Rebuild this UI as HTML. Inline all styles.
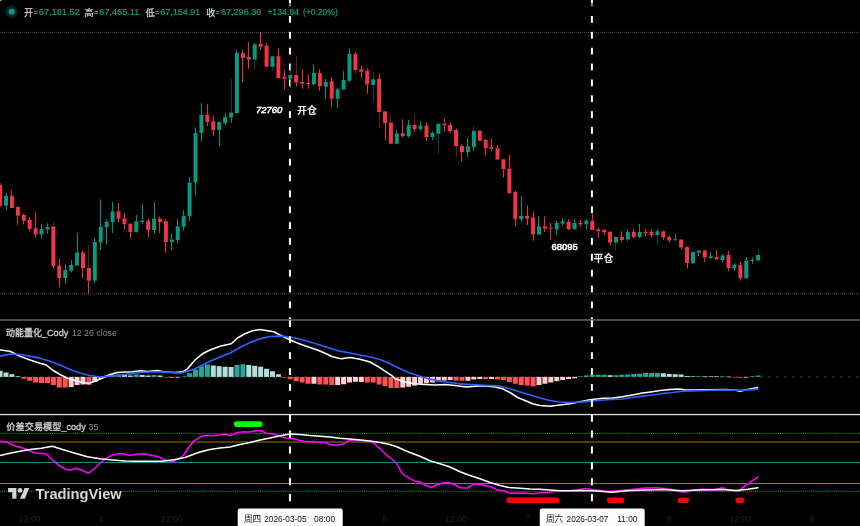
<!DOCTYPE html>
<html><head><meta charset="utf-8"><title>chart</title><style>html,body{margin:0;padding:0;background:#000;overflow:hidden}body{width:860px;height:526px;position:relative;font-family:"Liberation Sans",sans-serif}</style></head><body>
<svg width="860" height="526" viewBox="0 0 860 526" style="display:block;position:absolute;left:0;top:0" font-family="Liberation Sans, Noto Sans CJK SC, sans-serif">
<rect width="860" height="526" fill="#000"/>
<line x1="0" x2="860" y1="32.4" y2="32.4" stroke="#4a4a4a" stroke-width="1" stroke-dasharray="1 1"/>
<line x1="0" x2="860" y1="293.8" y2="293.8" stroke="#4a4a4a" stroke-width="1" stroke-dasharray="1 1"/>
<rect x="288.95" y="0" width="2" height="3.2" fill="#fff"/><rect x="288.95" y="3.2" width="2" height="3.1" fill="#8a8a8a"/>
<rect x="288.95" y="16.00" width="2.0" height="6.80" fill="#fff"/><rect x="288.95" y="31.86" width="2.0" height="6.80" fill="#fff"/><rect x="288.95" y="47.72" width="2.0" height="6.80" fill="#fff"/><rect x="288.95" y="63.58" width="2.0" height="6.80" fill="#fff"/><rect x="288.95" y="79.44" width="2.0" height="6.80" fill="#fff"/><rect x="288.95" y="95.30" width="2.0" height="6.80" fill="#fff"/><rect x="288.95" y="111.16" width="2.0" height="6.80" fill="#fff"/><rect x="288.95" y="127.02" width="2.0" height="6.80" fill="#fff"/><rect x="288.95" y="142.88" width="2.0" height="6.80" fill="#fff"/><rect x="288.95" y="158.74" width="2.0" height="6.80" fill="#fff"/><rect x="288.95" y="174.60" width="2.0" height="6.80" fill="#fff"/><rect x="288.95" y="190.46" width="2.0" height="6.80" fill="#fff"/><rect x="288.95" y="206.32" width="2.0" height="6.80" fill="#fff"/><rect x="288.95" y="222.18" width="2.0" height="6.80" fill="#fff"/><rect x="288.95" y="238.04" width="2.0" height="6.80" fill="#fff"/><rect x="288.95" y="253.90" width="2.0" height="6.80" fill="#fff"/><rect x="288.95" y="269.76" width="2.0" height="6.80" fill="#fff"/><rect x="288.95" y="285.62" width="2.0" height="6.80" fill="#fff"/><rect x="288.95" y="301.48" width="2.0" height="6.80" fill="#fff"/><rect x="288.95" y="317.34" width="2.0" height="1.66" fill="#fff"/>
<rect x="590.90" y="0" width="2" height="3.2" fill="#fff"/><rect x="590.90" y="3.2" width="2" height="3.1" fill="#8a8a8a"/>
<rect x="590.90" y="16.00" width="2.0" height="6.80" fill="#fff"/><rect x="590.90" y="31.86" width="2.0" height="6.80" fill="#fff"/><rect x="590.90" y="47.72" width="2.0" height="6.80" fill="#fff"/><rect x="590.90" y="63.58" width="2.0" height="6.80" fill="#fff"/><rect x="590.90" y="79.44" width="2.0" height="6.80" fill="#fff"/><rect x="590.90" y="95.30" width="2.0" height="6.80" fill="#fff"/><rect x="590.90" y="111.16" width="2.0" height="6.80" fill="#fff"/><rect x="590.90" y="127.02" width="2.0" height="6.80" fill="#fff"/><rect x="590.90" y="142.88" width="2.0" height="6.80" fill="#fff"/><rect x="590.90" y="158.74" width="2.0" height="6.80" fill="#fff"/><rect x="590.90" y="174.60" width="2.0" height="6.80" fill="#fff"/><rect x="590.90" y="190.46" width="2.0" height="6.80" fill="#fff"/><rect x="590.90" y="206.32" width="2.0" height="6.80" fill="#fff"/><rect x="590.90" y="222.18" width="2.0" height="6.80" fill="#fff"/><rect x="590.90" y="238.04" width="2.0" height="6.80" fill="#fff"/><rect x="590.90" y="253.90" width="2.0" height="6.80" fill="#fff"/><rect x="590.90" y="269.76" width="2.0" height="6.80" fill="#fff"/><rect x="590.90" y="285.62" width="2.0" height="6.80" fill="#fff"/><rect x="590.90" y="301.48" width="2.0" height="6.80" fill="#fff"/><rect x="590.90" y="317.34" width="2.0" height="1.66" fill="#fff"/>
<g><rect x="-0.05" y="183.00" width="1.1" height="2.00" fill="#F23645" opacity="0.45"/><rect x="-0.05" y="205.75" width="1.1" height="1.25" fill="#F23645" opacity="0.45"/><rect x="5.95" y="193.00" width="1.1" height="2.75" fill="#089981" opacity="0.92"/><rect x="5.95" y="205.75" width="1.1" height="4.25" fill="#089981" opacity="0.92"/><rect x="10.95" y="190.50" width="1.1" height="5.25" fill="#F23645" opacity="0.92"/><rect x="16.95" y="206.50" width="1.1" height="0.50" fill="#F23645" opacity="0.92"/><rect x="16.95" y="215.75" width="1.1" height="9.25" fill="#F23645" opacity="0.92"/><rect x="22.95" y="213.75" width="1.1" height="1.25" fill="#F23645" opacity="0.92"/><rect x="22.95" y="220.75" width="1.1" height="3.50" fill="#F23645" opacity="0.92"/><rect x="28.95" y="217.00" width="1.1" height="3.00" fill="#F23645" opacity="0.92"/><rect x="28.95" y="229.00" width="1.1" height="1.75" fill="#F23645" opacity="0.92"/><rect x="34.95" y="212.00" width="1.1" height="16.25" fill="#F23645" opacity="0.92"/><rect x="34.95" y="234.50" width="1.1" height="3.00" fill="#F23645" opacity="0.92"/><rect x="40.95" y="224.00" width="1.1" height="5.00" fill="#089981" opacity="0.92"/><rect x="40.95" y="234.50" width="1.1" height="4.25" fill="#089981" opacity="0.92"/><rect x="46.95" y="223.25" width="1.1" height="3.75" fill="#089981" opacity="0.92"/><rect x="46.95" y="229.50" width="1.1" height="4.25" fill="#089981" opacity="0.92"/><rect x="52.95" y="222.00" width="1.1" height="4.50" fill="#F23645" opacity="0.45"/><rect x="52.95" y="266.00" width="1.1" height="2.25" fill="#F23645" opacity="0.92"/><rect x="58.95" y="258.75" width="1.1" height="6.75" fill="#F23645" opacity="0.92"/><rect x="58.95" y="278.00" width="1.1" height="9.00" fill="#F23645" opacity="0.92"/><rect x="64.95" y="264.25" width="1.1" height="5.75" fill="#089981" opacity="0.92"/><rect x="64.95" y="278.00" width="1.1" height="5.75" fill="#089981" opacity="0.92"/><rect x="70.95" y="260.00" width="1.1" height="5.00" fill="#089981" opacity="0.92"/><rect x="70.95" y="270.75" width="1.1" height="1.75" fill="#089981" opacity="0.92"/><rect x="76.95" y="233.00" width="1.1" height="19.50" fill="#089981" opacity="0.92"/><rect x="81.95" y="250.75" width="1.1" height="1.75" fill="#F23645" opacity="0.92"/><rect x="81.95" y="268.25" width="1.1" height="9.75" fill="#F23645" opacity="0.92"/><rect x="87.95" y="245.00" width="1.1" height="23.00" fill="#F23645" opacity="0.45"/><rect x="87.95" y="280.75" width="1.1" height="13.00" fill="#F23645" opacity="0.92"/><rect x="93.95" y="238.00" width="1.1" height="4.00" fill="#089981" opacity="0.92"/><rect x="93.95" y="280.75" width="1.1" height="2.25" fill="#089981" opacity="0.92"/><rect x="99.95" y="199.25" width="1.1" height="27.50" fill="#089981" opacity="0.92"/><rect x="99.95" y="242.50" width="1.1" height="7.50" fill="#089981" opacity="0.92"/><rect x="105.95" y="219.25" width="1.1" height="2.50" fill="#089981" opacity="0.92"/><rect x="105.95" y="227.00" width="1.1" height="17.50" fill="#089981" opacity="0.92"/><rect x="111.95" y="202.00" width="1.1" height="9.25" fill="#089981" opacity="0.92"/><rect x="111.95" y="222.00" width="1.1" height="11.00" fill="#089981" opacity="0.92"/><rect x="117.95" y="203.00" width="1.1" height="8.25" fill="#F23645" opacity="0.92"/><rect x="117.95" y="218.75" width="1.1" height="3.25" fill="#F23645" opacity="0.92"/><rect x="123.95" y="213.00" width="1.1" height="5.25" fill="#F23645" opacity="0.92"/><rect x="123.95" y="224.25" width="1.1" height="5.25" fill="#F23645" opacity="0.92"/><rect x="129.95" y="223.25" width="1.1" height="0.50" fill="#F23645" opacity="0.92"/><rect x="129.95" y="232.00" width="1.1" height="6.00" fill="#F23645" opacity="0.92"/><rect x="135.95" y="215.00" width="1.1" height="6.25" fill="#089981" opacity="0.92"/><rect x="135.95" y="232.00" width="1.1" height="0.50" fill="#089981" opacity="0.92"/><rect x="141.95" y="204.25" width="1.1" height="16.50" fill="#089981" opacity="0.92"/><rect x="141.95" y="222.00" width="1.1" height="2.50" fill="#089981" opacity="0.92"/><rect x="147.95" y="218.75" width="1.1" height="2.00" fill="#F23645" opacity="0.92"/><rect x="147.95" y="230.00" width="1.1" height="7.50" fill="#F23645" opacity="0.92"/><rect x="153.95" y="202.00" width="1.1" height="16.75" fill="#089981" opacity="0.92"/><rect x="153.95" y="230.00" width="1.1" height="3.75" fill="#089981" opacity="0.92"/><rect x="158.95" y="216.75" width="1.1" height="2.00" fill="#F23645" opacity="0.92"/><rect x="158.95" y="222.00" width="1.1" height="11.00" fill="#F23645" opacity="0.92"/><rect x="164.95" y="219.25" width="1.1" height="2.00" fill="#F23645" opacity="0.92"/><rect x="164.95" y="242.00" width="1.1" height="11.00" fill="#F23645" opacity="0.92"/><rect x="170.95" y="233.75" width="1.1" height="5.75" fill="#089981" opacity="0.92"/><rect x="170.95" y="242.00" width="1.1" height="8.00" fill="#089981" opacity="0.92"/><rect x="176.95" y="219.25" width="1.1" height="7.00" fill="#089981" opacity="0.92"/><rect x="176.95" y="240.00" width="1.1" height="3.00" fill="#089981" opacity="0.92"/><rect x="182.95" y="210.00" width="1.1" height="5.75" fill="#089981" opacity="0.92"/><rect x="182.95" y="226.75" width="1.1" height="4.00" fill="#089981" opacity="0.92"/><rect x="188.95" y="177.00" width="1.1" height="5.50" fill="#089981" opacity="0.92"/><rect x="188.95" y="216.25" width="1.1" height="4.50" fill="#089981" opacity="0.92"/><rect x="194.95" y="127.50" width="1.1" height="5.50" fill="#089981" opacity="0.92"/><rect x="194.95" y="182.50" width="1.1" height="13.25" fill="#089981" opacity="0.92"/><rect x="200.95" y="103.00" width="1.1" height="12.00" fill="#089981" opacity="0.92"/><rect x="200.95" y="133.00" width="1.1" height="8.75" fill="#089981" opacity="0.92"/><rect x="206.95" y="104.25" width="1.1" height="10.75" fill="#F23645" opacity="0.92"/><rect x="206.95" y="122.00" width="1.1" height="4.25" fill="#F23645" opacity="0.92"/><rect x="212.95" y="116.25" width="1.1" height="5.00" fill="#F23645" opacity="0.92"/><rect x="212.95" y="130.00" width="1.1" height="5.50" fill="#F23645" opacity="0.92"/><rect x="218.95" y="121.25" width="1.1" height="0.75" fill="#089981" opacity="0.92"/><rect x="218.95" y="130.00" width="1.1" height="16.25" fill="#089981" opacity="0.92"/><rect x="224.95" y="112.50" width="1.1" height="4.50" fill="#089981" opacity="0.92"/><rect x="224.95" y="123.00" width="1.1" height="2.50" fill="#089981" opacity="0.92"/><rect x="230.95" y="78.75" width="1.1" height="33.75" fill="#089981" opacity="0.45"/><rect x="230.95" y="117.50" width="1.1" height="5.50" fill="#089981" opacity="0.92"/><rect x="235.95" y="50.00" width="1.1" height="3.00" fill="#089981" opacity="0.92"/><rect x="235.95" y="113.00" width="1.1" height="0.75" fill="#089981" opacity="0.92"/><rect x="241.95" y="50.00" width="1.1" height="3.00" fill="#F23645" opacity="0.92"/><rect x="241.95" y="58.00" width="1.1" height="24.00" fill="#F23645" opacity="0.92"/><rect x="247.95" y="42.00" width="1.1" height="15.00" fill="#F23645" opacity="0.92"/><rect x="247.95" y="59.50" width="1.1" height="9.25" fill="#F23645" opacity="0.92"/><rect x="253.95" y="43.00" width="1.1" height="1.25" fill="#089981" opacity="0.92"/><rect x="253.95" y="59.50" width="1.1" height="10.00" fill="#089981" opacity="0.45"/><rect x="259.95" y="32.00" width="1.1" height="11.75" fill="#F23645" opacity="0.92"/><rect x="259.95" y="46.75" width="1.1" height="3.25" fill="#F23645" opacity="0.92"/><rect x="265.95" y="43.00" width="1.1" height="2.75" fill="#F23645" opacity="0.92"/><rect x="271.95" y="66.75" width="1.1" height="4.00" fill="#089981" opacity="0.45"/><rect x="277.95" y="48.75" width="1.1" height="7.50" fill="#F23645" opacity="0.92"/><rect x="283.95" y="70.75" width="1.1" height="6.00" fill="#F23645" opacity="0.92"/><rect x="283.95" y="78.75" width="1.1" height="10.75" fill="#F23645" opacity="0.92"/><rect x="289.95" y="64.00" width="1.1" height="11.00" fill="#089981" opacity="0.45"/><rect x="289.95" y="78.75" width="1.1" height="8.75" fill="#089981" opacity="0.92"/><rect x="295.95" y="56.25" width="1.1" height="18.75" fill="#F23645" opacity="0.45"/><rect x="295.95" y="82.50" width="1.1" height="3.75" fill="#F23645" opacity="0.92"/><rect x="301.95" y="69.25" width="1.1" height="12.75" fill="#F23645" opacity="0.92"/><rect x="301.95" y="83.75" width="1.1" height="5.00" fill="#F23645" opacity="0.92"/><rect x="307.95" y="75.00" width="1.1" height="8.00" fill="#F23645" opacity="0.92"/><rect x="307.95" y="84.00" width="1.1" height="4.75" fill="#F23645" opacity="0.92"/><rect x="312.95" y="64.25" width="1.1" height="8.75" fill="#089981" opacity="0.92"/><rect x="312.95" y="84.25" width="1.1" height="1.25" fill="#089981" opacity="0.92"/><rect x="318.95" y="69.25" width="1.1" height="3.75" fill="#F23645" opacity="0.92"/><rect x="318.95" y="86.25" width="1.1" height="4.50" fill="#F23645" opacity="0.92"/><rect x="324.95" y="78.75" width="1.1" height="3.25" fill="#089981" opacity="0.92"/><rect x="324.95" y="86.75" width="1.1" height="12.00" fill="#089981" opacity="0.92"/><rect x="330.95" y="77.50" width="1.1" height="3.75" fill="#F23645" opacity="0.92"/><rect x="330.95" y="98.75" width="1.1" height="8.75" fill="#F23645" opacity="0.92"/><rect x="336.95" y="87.50" width="1.1" height="1.75" fill="#089981" opacity="0.92"/><rect x="336.95" y="98.75" width="1.1" height="9.25" fill="#089981" opacity="0.92"/><rect x="342.95" y="70.75" width="1.1" height="9.25" fill="#089981" opacity="0.92"/><rect x="342.95" y="89.50" width="1.1" height="0.50" fill="#089981" opacity="0.92"/><rect x="348.95" y="48.25" width="1.1" height="5.50" fill="#089981" opacity="0.92"/><rect x="348.95" y="80.75" width="1.1" height="1.75" fill="#089981" opacity="0.92"/><rect x="354.95" y="52.00" width="1.1" height="1.75" fill="#F23645" opacity="0.92"/><rect x="354.95" y="70.00" width="1.1" height="3.75" fill="#F23645" opacity="0.45"/><rect x="360.95" y="65.50" width="1.1" height="3.75" fill="#F23645" opacity="0.92"/><rect x="360.95" y="71.75" width="1.1" height="6.25" fill="#F23645" opacity="0.92"/><rect x="366.95" y="68.25" width="1.1" height="2.50" fill="#F23645" opacity="0.92"/><rect x="366.95" y="84.50" width="1.1" height="9.25" fill="#F23645" opacity="0.92"/><rect x="372.95" y="72.00" width="1.1" height="7.25" fill="#089981" opacity="0.45"/><rect x="372.95" y="85.00" width="1.1" height="16.25" fill="#089981" opacity="0.45"/><rect x="378.95" y="73.75" width="1.1" height="5.00" fill="#F23645" opacity="0.92"/><rect x="378.95" y="112.00" width="1.1" height="15.50" fill="#F23645" opacity="0.45"/><rect x="384.95" y="123.00" width="1.1" height="17.00" fill="#F23645" opacity="0.92"/><rect x="389.95" y="114.50" width="1.1" height="8.00" fill="#F23645" opacity="0.45"/><rect x="389.95" y="143.75" width="1.1" height="0.50" fill="#F23645" opacity="0.92"/><rect x="395.95" y="130.00" width="1.1" height="3.25" fill="#089981" opacity="0.92"/><rect x="395.95" y="143.75" width="1.1" height="0.25" fill="#089981" opacity="0.92"/><rect x="401.95" y="119.25" width="1.1" height="14.00" fill="#F23645" opacity="0.92"/><rect x="401.95" y="136.25" width="1.1" height="1.25" fill="#F23645" opacity="0.92"/><rect x="407.95" y="120.00" width="1.1" height="5.00" fill="#089981" opacity="0.92"/><rect x="407.95" y="136.25" width="1.1" height="1.75" fill="#089981" opacity="0.92"/><rect x="413.95" y="114.25" width="1.1" height="10.75" fill="#F23645" opacity="0.45"/><rect x="413.95" y="129.25" width="1.1" height="2.50" fill="#F23645" opacity="0.92"/><rect x="419.95" y="121.25" width="1.1" height="4.50" fill="#089981" opacity="0.92"/><rect x="419.95" y="129.25" width="1.1" height="1.50" fill="#089981" opacity="0.92"/><rect x="425.95" y="123.00" width="1.1" height="2.75" fill="#F23645" opacity="0.92"/><rect x="425.95" y="137.00" width="1.1" height="4.00" fill="#F23645" opacity="0.92"/><rect x="431.95" y="131.25" width="1.1" height="1.75" fill="#089981" opacity="0.92"/><rect x="431.95" y="137.00" width="1.1" height="3.00" fill="#089981" opacity="0.92"/><rect x="437.95" y="123.00" width="1.1" height="0.75" fill="#089981" opacity="0.92"/><rect x="437.95" y="133.75" width="1.1" height="20.75" fill="#089981" opacity="0.45"/><rect x="443.95" y="118.75" width="1.1" height="5.00" fill="#F23645" opacity="0.92"/><rect x="443.95" y="125.00" width="1.1" height="7.00" fill="#F23645" opacity="0.92"/><rect x="449.95" y="122.50" width="1.1" height="2.50" fill="#F23645" opacity="0.92"/><rect x="449.95" y="131.25" width="1.1" height="1.75" fill="#F23645" opacity="0.92"/><rect x="455.95" y="128.75" width="1.1" height="1.25" fill="#F23645" opacity="0.92"/><rect x="455.95" y="146.25" width="1.1" height="10.75" fill="#F23645" opacity="0.45"/><rect x="460.95" y="143.75" width="1.1" height="2.00" fill="#F23645" opacity="0.92"/><rect x="460.95" y="152.00" width="1.1" height="9.75" fill="#F23645" opacity="0.92"/><rect x="466.95" y="138.00" width="1.1" height="8.25" fill="#089981" opacity="0.92"/><rect x="466.95" y="152.00" width="1.1" height="5.00" fill="#089981" opacity="0.92"/><rect x="472.95" y="125.75" width="1.1" height="5.00" fill="#089981" opacity="0.45"/><rect x="472.95" y="147.00" width="1.1" height="3.75" fill="#089981" opacity="0.92"/><rect x="478.95" y="130.50" width="1.1" height="0.25" fill="#F23645" opacity="0.92"/><rect x="478.95" y="140.75" width="1.1" height="0.50" fill="#F23645" opacity="0.92"/><rect x="484.95" y="138.75" width="1.1" height="1.25" fill="#F23645" opacity="0.92"/><rect x="484.95" y="148.25" width="1.1" height="7.50" fill="#F23645" opacity="0.92"/><rect x="490.95" y="138.75" width="1.1" height="8.25" fill="#F23645" opacity="0.92"/><rect x="490.95" y="148.75" width="1.1" height="2.50" fill="#F23645" opacity="0.92"/><rect x="496.95" y="145.00" width="1.1" height="3.25" fill="#F23645" opacity="0.92"/><rect x="496.95" y="159.50" width="1.1" height="0.50" fill="#F23645" opacity="0.92"/><rect x="502.95" y="158.75" width="1.1" height="0.50" fill="#F23645" opacity="0.92"/><rect x="502.95" y="169.25" width="1.1" height="8.25" fill="#F23645" opacity="0.92"/><rect x="508.95" y="155.00" width="1.1" height="13.75" fill="#F23645" opacity="0.92"/><rect x="508.95" y="193.00" width="1.1" height="0.75" fill="#F23645" opacity="0.92"/><rect x="514.95" y="190.50" width="1.1" height="1.50" fill="#F23645" opacity="0.92"/><rect x="514.95" y="219.25" width="1.1" height="7.25" fill="#F23645" opacity="0.92"/><rect x="520.95" y="196.00" width="1.1" height="19.75" fill="#089981" opacity="0.92"/><rect x="520.95" y="219.25" width="1.1" height="2.25" fill="#089981" opacity="0.92"/><rect x="526.95" y="205.50" width="1.1" height="10.25" fill="#F23645" opacity="0.92"/><rect x="526.95" y="218.75" width="1.1" height="6.25" fill="#F23645" opacity="0.92"/><rect x="532.95" y="211.25" width="1.1" height="6.25" fill="#F23645" opacity="0.92"/><rect x="532.95" y="234.50" width="1.1" height="6.25" fill="#F23645" opacity="0.92"/><rect x="537.95" y="216.25" width="1.1" height="10.00" fill="#089981" opacity="0.92"/><rect x="537.95" y="234.50" width="1.1" height="0.50" fill="#089981" opacity="0.92"/><rect x="543.95" y="216.25" width="1.1" height="10.00" fill="#F23645" opacity="0.92"/><rect x="543.95" y="228.75" width="1.1" height="3.25" fill="#F23645" opacity="0.92"/><rect x="549.95" y="223.00" width="1.1" height="4.50" fill="#F23645" opacity="0.92"/><rect x="549.95" y="228.75" width="1.1" height="10.75" fill="#F23645" opacity="0.92"/><rect x="555.95" y="220.75" width="1.1" height="2.25" fill="#089981" opacity="0.92"/><rect x="555.95" y="229.50" width="1.1" height="5.50" fill="#089981" opacity="0.92"/><rect x="561.95" y="218.00" width="1.1" height="3.25" fill="#089981" opacity="0.92"/><rect x="561.95" y="223.75" width="1.1" height="1.75" fill="#089981" opacity="0.92"/><rect x="567.95" y="219.50" width="1.1" height="2.25" fill="#F23645" opacity="0.92"/><rect x="567.95" y="229.25" width="1.1" height="0.75" fill="#F23645" opacity="0.92"/><rect x="573.95" y="219.25" width="1.1" height="3.75" fill="#089981" opacity="0.92"/><rect x="573.95" y="229.25" width="1.1" height="0.25" fill="#089981" opacity="0.92"/><rect x="579.95" y="220.00" width="1.1" height="3.00" fill="#F23645" opacity="0.92"/><rect x="579.95" y="224.50" width="1.1" height="3.00" fill="#F23645" opacity="0.92"/><rect x="585.95" y="219.50" width="1.1" height="1.25" fill="#089981" opacity="0.92"/><rect x="585.95" y="224.25" width="1.1" height="5.75" fill="#089981" opacity="0.92"/><rect x="591.95" y="213.75" width="1.1" height="7.00" fill="#F23645" opacity="0.92"/><rect x="597.95" y="227.50" width="1.1" height="1.75" fill="#F23645" opacity="0.92"/><rect x="597.95" y="231.25" width="1.1" height="6.75" fill="#F23645" opacity="0.92"/><rect x="603.95" y="228.75" width="1.1" height="1.25" fill="#F23645" opacity="0.92"/><rect x="603.95" y="232.00" width="1.1" height="3.00" fill="#F23645" opacity="0.92"/><rect x="609.95" y="231.00" width="1.1" height="0.75" fill="#F23645" opacity="0.92"/><rect x="609.95" y="242.50" width="1.1" height="2.50" fill="#F23645" opacity="0.92"/><rect x="614.95" y="242.50" width="1.1" height="8.00" fill="#089981" opacity="0.45"/><rect x="620.95" y="231.25" width="1.1" height="5.75" fill="#F23645" opacity="0.92"/><rect x="620.95" y="240.00" width="1.1" height="2.00" fill="#F23645" opacity="0.92"/><rect x="626.95" y="229.50" width="1.1" height="2.50" fill="#089981" opacity="0.92"/><rect x="626.95" y="239.50" width="1.1" height="1.75" fill="#089981" opacity="0.92"/><rect x="632.95" y="228.75" width="1.1" height="3.25" fill="#F23645" opacity="0.92"/><rect x="632.95" y="237.00" width="1.1" height="1.00" fill="#F23645" opacity="0.92"/><rect x="638.95" y="223.75" width="1.1" height="8.25" fill="#089981" opacity="0.92"/><rect x="638.95" y="237.00" width="1.1" height="1.00" fill="#089981" opacity="0.92"/><rect x="644.95" y="229.25" width="1.1" height="2.75" fill="#F23645" opacity="0.92"/><rect x="644.95" y="233.25" width="1.1" height="3.00" fill="#F23645" opacity="0.92"/><rect x="650.95" y="229.25" width="1.1" height="2.50" fill="#F23645" opacity="0.92"/><rect x="650.95" y="235.00" width="1.1" height="2.50" fill="#F23645" opacity="0.92"/><rect x="656.95" y="229.25" width="1.1" height="2.00" fill="#089981" opacity="0.92"/><rect x="656.95" y="235.00" width="1.1" height="10.00" fill="#089981" opacity="0.45"/><rect x="662.95" y="230.75" width="1.1" height="0.50" fill="#F23645" opacity="0.92"/><rect x="662.95" y="237.50" width="1.1" height="2.50" fill="#F23645" opacity="0.92"/><rect x="668.95" y="235.50" width="1.1" height="1.50" fill="#F23645" opacity="0.92"/><rect x="668.95" y="240.50" width="1.1" height="2.00" fill="#F23645" opacity="0.92"/><rect x="674.95" y="234.25" width="1.1" height="5.00" fill="#089981" opacity="0.92"/><rect x="674.95" y="240.25" width="1.1" height="0.25" fill="#089981" opacity="0.92"/><rect x="680.95" y="239.00" width="1.1" height="0.50" fill="#F23645" opacity="0.92"/><rect x="680.95" y="247.50" width="1.1" height="2.00" fill="#F23645" opacity="0.92"/><rect x="686.95" y="246.50" width="1.1" height="0.50" fill="#F23645" opacity="0.92"/><rect x="686.95" y="263.00" width="1.1" height="5.50" fill="#F23645" opacity="0.92"/><rect x="691.95" y="251.25" width="1.1" height="0.75" fill="#089981" opacity="0.92"/><rect x="691.95" y="263.25" width="1.1" height="0.50" fill="#089981" opacity="0.92"/><rect x="697.95" y="250.00" width="1.1" height="0.50" fill="#089981" opacity="0.92"/><rect x="697.95" y="252.75" width="1.1" height="3.25" fill="#089981" opacity="0.92"/><rect x="703.95" y="249.50" width="1.1" height="1.00" fill="#F23645" opacity="0.92"/><rect x="703.95" y="257.50" width="1.1" height="4.50" fill="#F23645" opacity="0.92"/><rect x="709.95" y="252.25" width="1.1" height="4.00" fill="#089981" opacity="0.92"/><rect x="709.95" y="258.00" width="1.1" height="1.00" fill="#089981" opacity="0.92"/><rect x="715.95" y="250.00" width="1.1" height="7.00" fill="#F23645" opacity="0.92"/><rect x="721.95" y="253.75" width="1.1" height="1.75" fill="#089981" opacity="0.92"/><rect x="721.95" y="260.00" width="1.1" height="2.50" fill="#089981" opacity="0.92"/><rect x="727.95" y="250.75" width="1.1" height="4.25" fill="#F23645" opacity="0.92"/><rect x="727.95" y="268.00" width="1.1" height="3.25" fill="#F23645" opacity="0.92"/><rect x="733.95" y="263.00" width="1.1" height="2.00" fill="#089981" opacity="0.92"/><rect x="733.95" y="268.25" width="1.1" height="2.25" fill="#089981" opacity="0.92"/><rect x="739.95" y="262.00" width="1.1" height="3.00" fill="#F23645" opacity="0.92"/><rect x="739.95" y="278.25" width="1.1" height="2.25" fill="#F23645" opacity="0.92"/><rect x="745.95" y="257.00" width="1.1" height="3.50" fill="#089981" opacity="0.92"/><rect x="745.95" y="278.25" width="1.1" height="0.50" fill="#089981" opacity="0.92"/><rect x="751.95" y="257.50" width="1.1" height="2.50" fill="#089981" opacity="0.92"/><rect x="751.95" y="261.00" width="1.1" height="2.75" fill="#089981" opacity="0.92"/><rect x="757.95" y="250.00" width="1.1" height="5.00" fill="#089981" opacity="0.45"/></g>
<g><rect x="-1.89" y="185.00" width="3.95" height="20.75" fill="#F23645"/><rect x="4.03" y="195.75" width="3.95" height="10.00" fill="#089981"/><rect x="9.95" y="195.75" width="3.95" height="12.25" fill="#F23645"/><rect x="15.87" y="207.00" width="3.95" height="8.75" fill="#F23645"/><rect x="21.79" y="215.00" width="3.95" height="5.75" fill="#F23645"/><rect x="27.72" y="220.00" width="3.95" height="9.00" fill="#F23645"/><rect x="33.64" y="228.25" width="3.95" height="6.25" fill="#F23645"/><rect x="39.56" y="229.00" width="3.95" height="5.50" fill="#089981"/><rect x="45.48" y="227.00" width="3.95" height="2.50" fill="#089981"/><rect x="51.40" y="226.50" width="3.95" height="39.50" fill="#F23645"/><rect x="57.33" y="265.50" width="3.95" height="12.50" fill="#F23645"/><rect x="63.25" y="270.00" width="3.95" height="8.00" fill="#089981"/><rect x="69.17" y="265.00" width="3.95" height="5.75" fill="#089981"/><rect x="75.09" y="252.50" width="3.95" height="13.00" fill="#089981"/><rect x="81.02" y="252.50" width="3.95" height="15.75" fill="#F23645"/><rect x="86.94" y="268.00" width="3.95" height="12.75" fill="#F23645"/><rect x="92.86" y="242.00" width="3.95" height="38.75" fill="#089981"/><rect x="98.78" y="226.75" width="3.95" height="15.75" fill="#089981"/><rect x="104.70" y="221.75" width="3.95" height="5.25" fill="#089981"/><rect x="110.62" y="211.25" width="3.95" height="10.75" fill="#089981"/><rect x="116.55" y="211.25" width="3.95" height="7.50" fill="#F23645"/><rect x="122.47" y="218.25" width="3.95" height="6.00" fill="#F23645"/><rect x="128.39" y="223.75" width="3.95" height="8.25" fill="#F23645"/><rect x="134.31" y="221.25" width="3.95" height="10.75" fill="#089981"/><rect x="140.23" y="220.75" width="3.95" height="1.25" fill="#089981"/><rect x="146.16" y="220.75" width="3.95" height="9.25" fill="#F23645"/><rect x="152.08" y="218.75" width="3.95" height="11.25" fill="#089981"/><rect x="158.00" y="218.75" width="3.95" height="3.25" fill="#F23645"/><rect x="163.92" y="221.25" width="3.95" height="20.75" fill="#F23645"/><rect x="169.84" y="239.50" width="3.95" height="2.50" fill="#089981"/><rect x="175.77" y="226.25" width="3.95" height="13.75" fill="#089981"/><rect x="181.69" y="215.75" width="3.95" height="11.00" fill="#089981"/><rect x="187.61" y="182.50" width="3.95" height="33.75" fill="#089981"/><rect x="193.53" y="133.00" width="3.95" height="49.50" fill="#089981"/><rect x="199.45" y="115.00" width="3.95" height="18.00" fill="#089981"/><rect x="205.38" y="115.00" width="3.95" height="7.00" fill="#F23645"/><rect x="211.30" y="121.25" width="3.95" height="8.75" fill="#F23645"/><rect x="217.22" y="122.00" width="3.95" height="8.00" fill="#089981"/><rect x="223.14" y="117.00" width="3.95" height="6.00" fill="#089981"/><rect x="229.06" y="112.50" width="3.95" height="5.00" fill="#089981"/><rect x="234.99" y="53.00" width="3.95" height="60.00" fill="#089981"/><rect x="240.91" y="53.00" width="3.95" height="5.00" fill="#F23645"/><rect x="246.83" y="57.00" width="3.95" height="2.50" fill="#F23645"/><rect x="252.75" y="44.25" width="3.95" height="15.25" fill="#089981"/><rect x="258.68" y="43.75" width="3.95" height="3.00" fill="#F23645"/><rect x="264.60" y="45.75" width="3.95" height="21.00" fill="#F23645"/><rect x="270.52" y="56.25" width="3.95" height="10.50" fill="#089981"/><rect x="276.44" y="56.25" width="3.95" height="21.75" fill="#F23645"/><rect x="282.36" y="76.75" width="3.95" height="2.00" fill="#F23645"/><rect x="288.28" y="75.00" width="3.95" height="3.75" fill="#089981"/><rect x="294.21" y="75.00" width="3.95" height="7.50" fill="#F23645"/><rect x="300.13" y="82.00" width="3.95" height="1.75" fill="#F23645"/><rect x="306.05" y="83.00" width="3.95" height="1.00" fill="#F23645"/><rect x="311.97" y="73.00" width="3.95" height="11.25" fill="#089981"/><rect x="317.89" y="73.00" width="3.95" height="13.25" fill="#F23645"/><rect x="323.82" y="82.00" width="3.95" height="4.75" fill="#089981"/><rect x="329.74" y="81.25" width="3.95" height="17.50" fill="#F23645"/><rect x="335.66" y="89.25" width="3.95" height="9.50" fill="#089981"/><rect x="341.58" y="80.00" width="3.95" height="9.50" fill="#089981"/><rect x="347.50" y="53.75" width="3.95" height="27.00" fill="#089981"/><rect x="353.43" y="53.75" width="3.95" height="16.25" fill="#F23645"/><rect x="359.35" y="69.25" width="3.95" height="2.50" fill="#F23645"/><rect x="365.27" y="70.75" width="3.95" height="13.75" fill="#F23645"/><rect x="371.19" y="79.25" width="3.95" height="5.75" fill="#089981"/><rect x="377.12" y="78.75" width="3.95" height="33.25" fill="#F23645"/><rect x="383.04" y="111.25" width="3.95" height="11.75" fill="#F23645"/><rect x="388.96" y="122.50" width="3.95" height="21.25" fill="#F23645"/><rect x="394.88" y="133.25" width="3.95" height="10.50" fill="#089981"/><rect x="400.80" y="133.25" width="3.95" height="3.00" fill="#F23645"/><rect x="406.72" y="125.00" width="3.95" height="11.25" fill="#089981"/><rect x="412.65" y="125.00" width="3.95" height="4.25" fill="#F23645"/><rect x="418.57" y="125.75" width="3.95" height="3.50" fill="#089981"/><rect x="424.49" y="125.75" width="3.95" height="11.25" fill="#F23645"/><rect x="430.41" y="133.00" width="3.95" height="4.00" fill="#089981"/><rect x="436.33" y="123.75" width="3.95" height="10.00" fill="#089981"/><rect x="442.26" y="123.75" width="3.95" height="1.25" fill="#F23645"/><rect x="448.18" y="125.00" width="3.95" height="6.25" fill="#F23645"/><rect x="454.10" y="130.00" width="3.95" height="16.25" fill="#F23645"/><rect x="460.02" y="145.75" width="3.95" height="6.25" fill="#F23645"/><rect x="465.94" y="146.25" width="3.95" height="5.75" fill="#089981"/><rect x="471.87" y="130.75" width="3.95" height="16.25" fill="#089981"/><rect x="477.79" y="130.75" width="3.95" height="10.00" fill="#F23645"/><rect x="483.71" y="140.00" width="3.95" height="8.25" fill="#F23645"/><rect x="489.63" y="147.00" width="3.95" height="1.75" fill="#F23645"/><rect x="495.55" y="148.25" width="3.95" height="11.25" fill="#F23645"/><rect x="501.48" y="159.25" width="3.95" height="10.00" fill="#F23645"/><rect x="507.40" y="168.75" width="3.95" height="24.25" fill="#F23645"/><rect x="513.32" y="192.00" width="3.95" height="27.25" fill="#F23645"/><rect x="519.24" y="215.75" width="3.95" height="3.50" fill="#089981"/><rect x="525.16" y="215.75" width="3.95" height="3.00" fill="#F23645"/><rect x="531.09" y="217.50" width="3.95" height="17.00" fill="#F23645"/><rect x="537.01" y="226.25" width="3.95" height="8.25" fill="#089981"/><rect x="542.93" y="226.25" width="3.95" height="2.50" fill="#F23645"/><rect x="548.85" y="227.50" width="3.95" height="1.25" fill="#F23645"/><rect x="554.77" y="223.00" width="3.95" height="6.50" fill="#089981"/><rect x="560.70" y="221.25" width="3.95" height="2.50" fill="#089981"/><rect x="566.62" y="221.75" width="3.95" height="7.50" fill="#F23645"/><rect x="572.54" y="223.00" width="3.95" height="6.25" fill="#089981"/><rect x="578.46" y="223.00" width="3.95" height="1.50" fill="#F23645"/><rect x="584.38" y="220.75" width="3.95" height="3.50" fill="#089981"/><rect x="590.31" y="220.75" width="3.95" height="9.25" fill="#F23645"/><rect x="596.23" y="229.25" width="3.95" height="2.00" fill="#F23645"/><rect x="602.15" y="230.00" width="3.95" height="2.00" fill="#F23645"/><rect x="608.07" y="231.75" width="3.95" height="10.75" fill="#F23645"/><rect x="613.99" y="237.00" width="3.95" height="5.50" fill="#089981"/><rect x="619.92" y="237.00" width="3.95" height="3.00" fill="#F23645"/><rect x="625.84" y="232.00" width="3.95" height="7.50" fill="#089981"/><rect x="631.76" y="232.00" width="3.95" height="5.00" fill="#F23645"/><rect x="637.68" y="232.00" width="3.95" height="5.00" fill="#089981"/><rect x="643.60" y="232.00" width="3.95" height="1.25" fill="#F23645"/><rect x="649.53" y="231.75" width="3.95" height="3.25" fill="#F23645"/><rect x="655.45" y="231.25" width="3.95" height="3.75" fill="#089981"/><rect x="661.37" y="231.25" width="3.95" height="6.25" fill="#F23645"/><rect x="667.29" y="237.00" width="3.95" height="3.50" fill="#F23645"/><rect x="673.21" y="239.25" width="3.95" height="1.00" fill="#089981"/><rect x="679.14" y="239.50" width="3.95" height="8.00" fill="#F23645"/><rect x="685.06" y="247.00" width="3.95" height="16.00" fill="#F23645"/><rect x="690.98" y="252.00" width="3.95" height="11.25" fill="#089981"/><rect x="696.90" y="250.50" width="3.95" height="2.25" fill="#089981"/><rect x="702.82" y="250.50" width="3.95" height="7.00" fill="#F23645"/><rect x="708.75" y="256.25" width="3.95" height="1.75" fill="#089981"/><rect x="714.67" y="257.00" width="3.95" height="2.50" fill="#F23645"/><rect x="720.59" y="255.50" width="3.95" height="4.50" fill="#089981"/><rect x="726.51" y="255.00" width="3.95" height="13.00" fill="#F23645"/><rect x="732.43" y="265.00" width="3.95" height="3.25" fill="#089981"/><rect x="738.36" y="265.00" width="3.95" height="13.25" fill="#F23645"/><rect x="744.28" y="260.50" width="3.95" height="17.75" fill="#089981"/><rect x="750.20" y="260.00" width="3.95" height="1.00" fill="#089981"/><rect x="756.12" y="255.00" width="3.95" height="5.50" fill="#089981"/></g>
<rect x="0" y="319" width="860" height="2" fill="#4c4c4c"/>
<rect x="0" y="413.9" width="860" height="1.3" fill="#e0e0e0"/>
<line x1="0" x2="860" y1="377" y2="377" stroke="#3c3c3c" stroke-width="1" stroke-dasharray="3 5"/>
<g><rect x="-2.42" y="370.75" width="5" height="6.15" fill="#B2DFDB"/><rect x="3.50" y="372.50" width="5" height="4.40" fill="#B2DFDB"/><rect x="9.43" y="374.25" width="5" height="2.65" fill="#B2DFDB"/><rect x="15.35" y="376.20" width="5" height="0.70" fill="#B2DFDB"/><rect x="21.27" y="376.90" width="5" height="1.85" fill="#FF5252"/><rect x="27.19" y="376.90" width="5" height="3.85" fill="#FF5252"/><rect x="33.11" y="376.90" width="5" height="5.60" fill="#FF5252"/><rect x="39.04" y="376.90" width="5" height="6.10" fill="#FF5252"/><rect x="44.96" y="376.90" width="5" height="6.10" fill="#FF5252"/><rect x="50.88" y="376.90" width="5" height="8.10" fill="#FF5252"/><rect x="56.80" y="376.90" width="5" height="10.60" fill="#FF5252"/><rect x="62.72" y="376.90" width="5" height="10.60" fill="#FF5252"/><rect x="68.65" y="376.90" width="5" height="10.10" fill="#FFCDD2"/><rect x="74.57" y="376.90" width="5" height="8.10" fill="#FFCDD2"/><rect x="80.49" y="376.90" width="5" height="7.60" fill="#FFCDD2"/><rect x="86.41" y="376.90" width="5" height="8.10" fill="#FF5252"/><rect x="92.33" y="376.90" width="5" height="5.10" fill="#FFCDD2"/><rect x="98.26" y="376.90" width="5" height="1.85" fill="#FFCDD2"/><rect x="104.18" y="375.50" width="5" height="1.40" fill="#26A69A"/><rect x="110.10" y="374.50" width="5" height="2.40" fill="#26A69A"/><rect x="116.02" y="374.50" width="5" height="2.40" fill="#26A69A"/><rect x="121.94" y="375.00" width="5" height="1.90" fill="#B2DFDB"/><rect x="127.87" y="375.50" width="5" height="1.40" fill="#B2DFDB"/><rect x="133.79" y="374.50" width="5" height="2.40" fill="#26A69A"/><rect x="139.71" y="375.00" width="5" height="1.90" fill="#B2DFDB"/><rect x="145.63" y="375.50" width="5" height="1.40" fill="#B2DFDB"/><rect x="151.55" y="375.00" width="5" height="1.90" fill="#26A69A"/><rect x="157.48" y="375.50" width="5" height="1.40" fill="#B2DFDB"/><rect x="163.40" y="376.90" width="5" height="0.60" fill="#FF5252"/><rect x="169.32" y="376.90" width="5" height="1.10" fill="#FF5252"/><rect x="175.24" y="376.90" width="5" height="0.60" fill="#FFCDD2"/><rect x="181.16" y="376.50" width="5" height="0.60" fill="#26A69A"/><rect x="187.09" y="373.25" width="5" height="3.65" fill="#26A69A"/><rect x="193.01" y="369.50" width="5" height="7.40" fill="#26A69A"/><rect x="198.93" y="366.25" width="5" height="10.65" fill="#26A69A"/><rect x="204.85" y="364.50" width="5" height="12.40" fill="#26A69A"/><rect x="210.77" y="365.50" width="5" height="11.40" fill="#B2DFDB"/><rect x="216.70" y="366.25" width="5" height="10.65" fill="#B2DFDB"/><rect x="222.62" y="366.75" width="5" height="10.15" fill="#B2DFDB"/><rect x="228.54" y="367.00" width="5" height="9.90" fill="#B2DFDB"/><rect x="234.46" y="365.00" width="5" height="11.90" fill="#26A69A"/><rect x="240.38" y="364.25" width="5" height="12.65" fill="#26A69A"/><rect x="246.31" y="365.00" width="5" height="11.90" fill="#B2DFDB"/><rect x="252.23" y="365.75" width="5" height="11.15" fill="#B2DFDB"/><rect x="258.15" y="366.75" width="5" height="10.15" fill="#B2DFDB"/><rect x="264.07" y="368.75" width="5" height="8.15" fill="#B2DFDB"/><rect x="269.99" y="371.25" width="5" height="5.65" fill="#B2DFDB"/><rect x="275.92" y="374.25" width="5" height="2.65" fill="#B2DFDB"/><rect x="281.84" y="376.90" width="5" height="0.70" fill="#FF5252"/><rect x="287.76" y="376.90" width="5" height="2.35" fill="#FF5252"/><rect x="293.68" y="376.90" width="5" height="4.35" fill="#FF5252"/><rect x="299.60" y="376.90" width="5" height="5.60" fill="#FF5252"/><rect x="305.53" y="376.90" width="5" height="6.85" fill="#FF5252"/><rect x="311.45" y="376.90" width="5" height="6.85" fill="#FFCDD2"/><rect x="317.37" y="376.90" width="5" height="7.60" fill="#FF5252"/><rect x="323.29" y="376.90" width="5" height="7.60" fill="#FF5252"/><rect x="329.21" y="376.90" width="5" height="8.10" fill="#FF5252"/><rect x="335.14" y="376.90" width="5" height="8.10" fill="#FFCDD2"/><rect x="341.06" y="376.90" width="5" height="7.35" fill="#FFCDD2"/><rect x="346.98" y="376.90" width="5" height="5.60" fill="#FFCDD2"/><rect x="352.90" y="376.90" width="5" height="4.85" fill="#FFCDD2"/><rect x="358.82" y="376.90" width="5" height="5.10" fill="#FFCDD2"/><rect x="364.75" y="376.90" width="5" height="5.60" fill="#FF5252"/><rect x="370.67" y="376.90" width="5" height="5.60" fill="#FF5252"/><rect x="376.59" y="376.90" width="5" height="7.60" fill="#FF5252"/><rect x="382.51" y="376.90" width="5" height="9.10" fill="#FF5252"/><rect x="388.43" y="376.90" width="5" height="11.10" fill="#FF5252"/><rect x="394.36" y="376.90" width="5" height="11.10" fill="#FF5252"/><rect x="400.28" y="376.90" width="5" height="10.60" fill="#FFCDD2"/><rect x="406.20" y="376.90" width="5" height="9.85" fill="#FFCDD2"/><rect x="412.12" y="376.90" width="5" height="8.60" fill="#FFCDD2"/><rect x="418.04" y="376.90" width="5" height="6.85" fill="#FFCDD2"/><rect x="423.97" y="376.90" width="5" height="6.35" fill="#FFCDD2"/><rect x="429.89" y="376.90" width="5" height="5.60" fill="#FFCDD2"/><rect x="435.81" y="376.90" width="5" height="4.35" fill="#FFCDD2"/><rect x="441.73" y="376.90" width="5" height="3.60" fill="#FFCDD2"/><rect x="447.65" y="376.90" width="5" height="3.10" fill="#FFCDD2"/><rect x="453.58" y="376.90" width="5" height="3.60" fill="#FF5252"/><rect x="459.50" y="376.90" width="5" height="3.85" fill="#FF5252"/><rect x="465.42" y="376.90" width="5" height="3.85" fill="#FFCDD2"/><rect x="471.34" y="376.90" width="5" height="2.60" fill="#FFCDD2"/><rect x="477.26" y="376.90" width="5" height="2.10" fill="#FFCDD2"/><rect x="483.19" y="376.90" width="5" height="2.35" fill="#FF5252"/><rect x="489.11" y="376.90" width="5" height="2.10" fill="#FFCDD2"/><rect x="495.03" y="376.90" width="5" height="2.60" fill="#FF5252"/><rect x="500.95" y="376.90" width="5" height="3.10" fill="#FF5252"/><rect x="506.87" y="376.90" width="5" height="5.10" fill="#FF5252"/><rect x="512.80" y="376.90" width="5" height="6.85" fill="#FF5252"/><rect x="518.72" y="376.90" width="5" height="8.10" fill="#FF5252"/><rect x="524.64" y="376.90" width="5" height="8.60" fill="#FF5252"/><rect x="530.56" y="376.90" width="5" height="9.35" fill="#FF5252"/><rect x="536.48" y="376.90" width="5" height="8.10" fill="#FFCDD2"/><rect x="542.41" y="376.90" width="5" height="6.85" fill="#FFCDD2"/><rect x="548.33" y="376.90" width="5" height="5.60" fill="#FFCDD2"/><rect x="554.25" y="376.90" width="5" height="4.35" fill="#FFCDD2"/><rect x="560.17" y="376.90" width="5" height="3.10" fill="#FFCDD2"/><rect x="566.09" y="376.90" width="5" height="2.10" fill="#FFCDD2"/><rect x="572.02" y="376.90" width="5" height="1.35" fill="#FFCDD2"/><rect x="577.94" y="376.20" width="5" height="0.70" fill="#26A69A"/><rect x="583.86" y="375.50" width="5" height="1.40" fill="#26A69A"/><rect x="589.78" y="375.00" width="5" height="1.90" fill="#26A69A"/><rect x="595.70" y="374.75" width="5" height="2.15" fill="#26A69A"/><rect x="601.63" y="374.75" width="5" height="2.15" fill="#26A69A"/><rect x="607.55" y="375.25" width="5" height="1.65" fill="#B2DFDB"/><rect x="613.47" y="375.25" width="5" height="1.65" fill="#26A69A"/><rect x="619.39" y="374.75" width="5" height="2.15" fill="#26A69A"/><rect x="625.31" y="374.50" width="5" height="2.40" fill="#26A69A"/><rect x="631.24" y="374.00" width="5" height="2.90" fill="#26A69A"/><rect x="637.16" y="373.75" width="5" height="3.15" fill="#26A69A"/><rect x="643.08" y="373.00" width="5" height="3.90" fill="#26A69A"/><rect x="649.00" y="373.00" width="5" height="3.90" fill="#26A69A"/><rect x="654.92" y="373.00" width="5" height="3.90" fill="#26A69A"/><rect x="660.85" y="373.25" width="5" height="3.65" fill="#B2DFDB"/><rect x="666.77" y="374.00" width="5" height="2.90" fill="#B2DFDB"/><rect x="672.69" y="374.25" width="5" height="2.65" fill="#B2DFDB"/><rect x="678.61" y="374.50" width="5" height="2.40" fill="#B2DFDB"/><rect x="684.53" y="376.00" width="5" height="0.90" fill="#B2DFDB"/><rect x="690.46" y="376.25" width="5" height="0.65" fill="#B2DFDB"/><rect x="696.38" y="376.25" width="5" height="0.65" fill="#26A69A"/><rect x="702.30" y="376.25" width="5" height="0.65" fill="#B2DFDB"/><rect x="708.22" y="376.25" width="5" height="0.65" fill="#B2DFDB"/><rect x="714.14" y="376.25" width="5" height="0.65" fill="#B2DFDB"/><rect x="720.07" y="376.25" width="5" height="0.65" fill="#26A69A"/><rect x="725.99" y="376.60" width="5" height="0.60" fill="#B2DFDB"/><rect x="731.91" y="376.90" width="5" height="0.60" fill="#FF5252"/><rect x="737.83" y="376.90" width="5" height="0.85" fill="#FF5252"/><rect x="743.75" y="376.90" width="5" height="0.60" fill="#FFCDD2"/><rect x="749.68" y="376.25" width="5" height="0.65" fill="#26A69A"/><rect x="755.60" y="375.50" width="5" height="1.40" fill="#26A69A"/></g>
<polyline fill="none" stroke="#ffffff" stroke-width="1.55" stroke-linejoin="round" stroke-linecap="round" points="0.0,350.0 10.0,351.2 20.0,356.2 30.0,360.0 40.0,363.2 46.2,365.0 52.5,370.0 60.0,374.5 67.5,378.2 75.0,380.5 82.5,382.5 88.8,383.2 95.0,381.2 102.5,378.0 110.0,374.5 117.5,372.5 125.0,372.0 132.5,371.8 140.0,370.8 147.5,371.5 157.5,370.5 165.0,372.0 175.0,372.5 182.5,371.8 187.5,368.8 195.0,360.0 202.5,353.8 210.0,350.0 220.0,346.2 231.2,343.8 237.5,338.0 245.0,333.8 252.5,330.8 260.0,329.5 266.2,330.5 273.8,331.8 280.0,335.0 287.5,338.8 295.0,342.0 302.5,345.0 310.0,347.5 317.5,350.0 325.0,353.2 332.5,356.8 341.2,358.8 350.0,357.5 360.0,359.2 370.0,362.0 377.5,366.2 385.0,371.2 392.5,376.2 395.0,378.8 405.0,382.0 415.0,383.8 425.0,384.5 435.0,385.0 445.0,384.5 455.0,385.5 466.2,387.0 475.0,386.2 485.0,385.8 495.0,387.0 502.5,388.8 510.0,392.5 517.5,397.5 525.0,400.5 532.5,403.8 540.0,405.5 550.0,406.2 560.0,405.0 570.0,403.8 580.0,401.8 590.0,399.8 602.5,398.2 612.5,398.0 622.5,396.8 632.5,395.0 642.5,393.0 652.5,391.8 660.0,390.5 670.0,389.5 680.0,389.0 685.0,390.0 695.0,390.0 710.0,389.8 725.0,389.5 735.0,390.0 740.0,391.2 747.5,389.5 757.5,387.5"/>
<polyline fill="none" stroke="#2962FF" stroke-width="1.7" stroke-linejoin="round" stroke-linecap="round" points="0.0,356.2 10.0,354.2 20.0,354.5 30.0,356.2 40.0,358.2 50.0,361.2 60.0,365.0 70.0,369.5 80.0,373.0 90.0,375.5 100.0,377.0 110.0,376.2 120.0,375.0 130.0,373.8 140.0,372.5 150.0,372.0 160.0,371.8 170.0,372.5 180.0,373.1 187.5,371.2 195.0,368.8 202.5,365.0 210.0,361.2 220.0,357.0 230.0,353.0 240.0,347.5 250.0,342.5 260.0,338.8 270.0,336.5 280.0,336.2 290.0,337.0 300.0,339.2 310.0,342.0 320.0,345.0 330.0,348.2 340.0,351.2 350.0,353.0 360.0,355.0 372.5,357.5 380.0,359.5 390.0,363.8 400.0,368.8 410.0,373.0 420.0,376.2 430.0,379.2 440.0,381.2 450.0,382.5 460.0,383.8 470.0,384.5 480.0,385.0 490.0,385.5 500.0,386.2 510.0,388.8 520.0,392.0 530.0,395.0 540.0,398.0 550.0,400.5 560.0,402.0 570.0,402.5 580.0,402.2 590.0,401.2 602.5,400.0 612.5,399.5 622.5,399.0 632.5,397.5 642.5,396.2 652.5,395.0 662.5,393.5 672.5,392.5 682.5,391.2 692.5,390.8 705.0,390.5 720.0,390.0 735.0,390.2 745.0,390.2 757.5,389.2"/>
<line x1="0" x2="860" y1="433.4" y2="433.4" stroke="#00b000" stroke-width="1" stroke-dasharray="1 1.08"/>
<line x1="0" x2="860" y1="491.3" y2="491.3" stroke="#00b000" stroke-width="1" stroke-dasharray="1 1.08"/>
<line x1="0" x2="860" y1="442" y2="442" stroke="#9b7a14" stroke-width="1.2"/>
<line x1="0" x2="860" y1="483.5" y2="483.5" stroke="#9b7a14" stroke-width="1.2"/>
<line x1="0" x2="860" y1="462.5" y2="462.5" stroke="#128c98" stroke-width="1.2"/>
<polyline fill="none" stroke="#ff00ff" stroke-width="1.5" stroke-linejoin="round" stroke-linecap="round" points="0.0,441.2 6.2,442.0 15.0,445.8 25.0,448.8 35.0,453.0 46.2,453.8 52.5,460.0 60.0,466.2 66.2,469.5 71.2,470.0 76.2,468.2 82.5,470.5 88.8,473.2 95.0,468.0 102.5,461.2 110.0,456.2 117.5,453.8 123.8,453.8 130.0,455.5 136.2,454.2 142.5,453.8 150.0,455.0 158.8,456.8 165.0,460.0 172.5,461.8 178.8,458.8 183.8,455.0 188.8,447.0 193.8,441.2 200.0,437.0 206.2,435.3 212.5,435.8 218.8,435.0 225.0,434.0 230.0,435.8 237.5,432.5 243.8,431.8 250.0,432.0 256.2,430.5 261.2,430.8 266.2,433.2 272.5,433.8 280.0,436.2 286.2,438.0 293.8,438.8 300.0,440.5 307.5,442.0 313.8,441.5 320.0,442.5 325.0,442.5 331.2,445.0 337.5,445.0 343.8,443.8 348.8,440.5 357.5,440.0 365.0,440.8 372.5,442.0 380.0,448.8 387.5,455.8 396.2,462.5 402.5,473.8 408.8,477.8 415.0,481.2 420.0,482.0 425.0,485.0 431.2,487.5 437.5,484.5 443.8,482.8 450.0,482.8 455.0,485.0 461.2,488.0 467.5,488.0 473.8,484.2 480.0,484.2 486.2,485.8 491.2,487.0 497.5,490.0 503.8,490.8 510.0,493.2 517.5,493.2 525.0,493.0 532.5,493.8 540.0,492.8 547.5,492.5 555.0,491.2 562.5,490.5 570.0,490.8 577.5,490.0 585.0,488.5 592.5,489.5 600.0,490.6 609.0,491.6 621.0,490.4 633.3,489.2 645.3,488.0 657.4,487.7 669.5,489.2 680.0,491.6 686.0,492.2 693.7,490.1 702.8,489.2 714.9,489.5 722.4,487.7 728.5,490.1 739.0,491.6 745.1,485.6 751.2,481.6 757.8,477.1"/>
<polyline fill="none" stroke="#ffffff" stroke-width="1.55" stroke-linejoin="round" stroke-linecap="round" points="0.0,455.5 10.0,453.2 20.0,451.2 30.0,449.5 41.2,448.2 52.5,446.2 62.5,449.5 75.0,453.2 87.5,456.8 100.0,458.8 112.5,460.0 125.0,461.0 137.5,461.2 150.0,461.2 162.5,461.2 175.0,459.5 185.0,457.5 195.0,453.8 200.0,452.0 210.0,449.5 220.0,448.0 230.0,447.0 240.0,444.5 250.0,442.5 260.0,440.0 270.0,438.0 280.0,435.8 290.0,434.0 300.0,434.5 310.0,435.5 320.0,436.2 330.0,437.0 340.0,438.2 350.0,439.0 360.0,440.0 370.0,441.0 380.0,442.5 390.0,444.5 397.5,447.0 405.0,450.5 410.0,452.5 420.0,456.2 430.0,460.8 440.0,463.8 450.0,467.0 460.0,471.8 470.0,475.5 480.0,478.8 490.0,482.5 500.0,485.5 508.8,487.5 520.0,488.2 530.0,489.0 540.0,489.2 550.0,490.0 560.0,490.8 570.0,490.8 580.0,490.5 590.0,490.8 600.0,491.3 612.0,492.2 627.2,490.7 645.3,490.1 663.5,489.5 681.6,490.7 699.8,490.1 720.9,489.5 736.0,490.4 748.1,489.2 757.8,487.7"/>
<line x1="236.6" x2="259.7" y1="424.1" y2="424.1" stroke="#00ff00" stroke-width="5.6" stroke-linecap="round"/>
<line x1="509.1" x2="556.5" y1="500.3" y2="500.3" stroke="#ff0000" stroke-width="5.6" stroke-linecap="round"/>
<line x1="609.8" x2="621.4" y1="500.3" y2="500.3" stroke="#ff0000" stroke-width="5.6" stroke-linecap="round"/>
<line x1="680.5" x2="686.4" y1="500.3" y2="500.3" stroke="#ff0000" stroke-width="5.6" stroke-linecap="round"/>
<line x1="738.2" x2="741.4" y1="500.3" y2="500.3" stroke="#ff0000" stroke-width="5.6" stroke-linecap="round"/>
<rect x="288.95" y="320.30" width="2.0" height="6.80" fill="#fff"/><rect x="288.95" y="336.24" width="2.0" height="6.80" fill="#fff"/><rect x="288.95" y="352.18" width="2.0" height="6.80" fill="#fff"/><rect x="288.95" y="368.12" width="2.0" height="6.80" fill="#fff"/><rect x="288.95" y="384.06" width="2.0" height="6.80" fill="#fff"/><rect x="288.95" y="400.00" width="2.0" height="6.80" fill="#fff"/>
<rect x="288.95" y="414.60" width="2.0" height="7.20" fill="#fff"/><rect x="288.95" y="430.50" width="2.0" height="7.20" fill="#fff"/><rect x="288.95" y="446.40" width="2.0" height="7.20" fill="#fff"/><rect x="288.95" y="462.30" width="2.0" height="7.20" fill="#fff"/><rect x="288.95" y="478.20" width="2.0" height="7.20" fill="#fff"/><rect x="288.95" y="494.10" width="2.0" height="7.20" fill="#fff"/>
<rect x="590.90" y="320.30" width="2.0" height="6.80" fill="#fff"/><rect x="590.90" y="336.24" width="2.0" height="6.80" fill="#fff"/><rect x="590.90" y="352.18" width="2.0" height="6.80" fill="#fff"/><rect x="590.90" y="368.12" width="2.0" height="6.80" fill="#fff"/><rect x="590.90" y="384.06" width="2.0" height="6.80" fill="#fff"/><rect x="590.90" y="400.00" width="2.0" height="6.80" fill="#fff"/>
<rect x="590.90" y="414.60" width="2.0" height="7.20" fill="#fff"/><rect x="590.90" y="430.50" width="2.0" height="7.20" fill="#fff"/><rect x="590.90" y="446.40" width="2.0" height="7.20" fill="#fff"/><rect x="590.90" y="462.30" width="2.0" height="7.20" fill="#fff"/><rect x="590.90" y="478.20" width="2.0" height="7.20" fill="#fff"/><rect x="590.90" y="494.10" width="2.0" height="7.20" fill="#fff"/>
<g opacity="0.995">
<rect x="0" y="0" width="1.4" height="0.9" fill="#cfcfcf"/><circle cx="11.5" cy="11.6" r="6.5" fill="#05241f"/><circle cx="11.7" cy="11.7" r="3.05" fill="#0e9c85"/>
<text x="24.00" y="16.20" font-size="9.2" fill="#dcdcdc" stroke="#dcdcdc" stroke-width="0.2">开</text>
<text x="33.50" y="15.00" font-size="9.2" font-weight="normal" font-style="normal" fill="#dcdcdc" textLength="4.60" lengthAdjust="spacingAndGlyphs"  xml:space="preserve">=</text>
<text x="38.80" y="15.00" font-size="9.2" font-weight="normal" font-style="normal" fill="#0f9f88" textLength="41.00" lengthAdjust="spacingAndGlyphs" stroke="#0f9f88" stroke-width="0.2" xml:space="preserve">67,161.52</text>
<text x="84.50" y="16.20" font-size="9.2" fill="#dcdcdc" stroke="#dcdcdc" stroke-width="0.2">高</text>
<text x="93.80" y="15.00" font-size="9.2" font-weight="normal" font-style="normal" fill="#dcdcdc" textLength="4.60" lengthAdjust="spacingAndGlyphs"  xml:space="preserve">=</text>
<text x="99.30" y="15.00" font-size="9.2" font-weight="normal" font-style="normal" fill="#0f9f88" textLength="40.00" lengthAdjust="spacingAndGlyphs" stroke="#0f9f88" stroke-width="0.2" xml:space="preserve">67,465.11</text>
<text x="145.40" y="16.20" font-size="9.2" fill="#dcdcdc" stroke="#dcdcdc" stroke-width="0.2">低</text>
<text x="155.00" y="15.00" font-size="9.2" font-weight="normal" font-style="normal" fill="#dcdcdc" textLength="4.60" lengthAdjust="spacingAndGlyphs"  xml:space="preserve">=</text>
<text x="160.20" y="15.00" font-size="9.2" font-weight="normal" font-style="normal" fill="#0f9f88" textLength="40.20" lengthAdjust="spacingAndGlyphs" stroke="#0f9f88" stroke-width="0.2" xml:space="preserve">67,154.91</text>
<text x="206.20" y="16.20" font-size="9.2" fill="#dcdcdc" stroke="#dcdcdc" stroke-width="0.2">收</text>
<text x="215.30" y="15.00" font-size="9.2" font-weight="normal" font-style="normal" fill="#dcdcdc" textLength="4.60" lengthAdjust="spacingAndGlyphs"  xml:space="preserve">=</text>
<text x="220.90" y="15.00" font-size="9.2" font-weight="normal" font-style="normal" fill="#0f9f88" textLength="40.50" lengthAdjust="spacingAndGlyphs" stroke="#0f9f88" stroke-width="0.2" xml:space="preserve">67,296.36</text>
<text x="267.20" y="15.00" font-size="9.2" font-weight="normal" font-style="normal" fill="#0f9f88" textLength="31.90" lengthAdjust="spacingAndGlyphs" stroke="#0f9f88" stroke-width="0.2" xml:space="preserve">+134.84</text>
<text x="302.90" y="15.00" font-size="9.2" font-weight="normal" font-style="normal" fill="#0f9f88" textLength="34.90" lengthAdjust="spacingAndGlyphs" stroke="#0f9f88" stroke-width="0.2" xml:space="preserve">(+0.20%)</text>
<text x="256.00" y="113.30" font-size="9.5" font-weight="normal" font-style="italic" fill="#fff" textLength="26.40" lengthAdjust="spacingAndGlyphs" stroke="#fff" stroke-width="0.55" xml:space="preserve">72760</text>
<text x="297.00" y="114.20" font-size="9.9" font-weight="bold" fill="#f0f0f0" textLength="19.80" lengthAdjust="spacingAndGlyphs">开仓</text>
<text x="551.50" y="250.10" font-size="9.5" font-weight="normal" font-style="normal" fill="#fff" textLength="26.20" lengthAdjust="spacingAndGlyphs" stroke="#fff" stroke-width="0.55" xml:space="preserve">68095</text>
<text x="593.40" y="261.80" font-size="10" font-weight="bold" fill="#f0f0f0" textLength="20.00" lengthAdjust="spacingAndGlyphs">平仓</text>
<text x="5.90" y="336.20" font-size="9" fill="#d4d4d4" stroke="#d4d4d4" stroke-width="0.3" textLength="36.00" lengthAdjust="spacingAndGlyphs">动能量化</text>
<text x="41.90" y="336.00" font-size="9.2" font-weight="normal" font-style="normal" fill="#d4d4d4" textLength="26.50" lengthAdjust="spacingAndGlyphs" stroke="#d4d4d4" stroke-width="0.3" xml:space="preserve">_Cody</text>
<text x="71.90" y="336.00" font-size="9.2" font-weight="normal" font-style="normal" fill="#8c8c8c" textLength="45.00" lengthAdjust="spacingAndGlyphs"  xml:space="preserve">12 26 close</text>
<text x="6.30" y="430.20" font-size="9.2" fill="#000" stroke="#000" stroke-width="2.5" paint-order="stroke" stroke-linejoin="round" textLength="55.20" lengthAdjust="spacingAndGlyphs">价差交易模型</text>
<text x="6.30" y="430.20" font-size="9.2" fill="#d4d4d4" stroke="#d4d4d4" stroke-width="0.3" textLength="55.20" lengthAdjust="spacingAndGlyphs">价差交易模型</text>
<text x="61.40" y="430.00" font-size="9.2" font-weight="normal" font-style="normal" fill="#000" textLength="24.40" lengthAdjust="spacingAndGlyphs" stroke="#000" stroke-width="2.5" paint-order="stroke" stroke-linejoin="round" xml:space="preserve">_cody</text><text x="61.40" y="430.00" font-size="9.2" font-weight="normal" font-style="normal" fill="#d4d4d4" textLength="24.40" lengthAdjust="spacingAndGlyphs" stroke="#d4d4d4" stroke-width="0.3" xml:space="preserve">_cody</text>
<text x="88.60" y="430.00" font-size="9.2" font-weight="normal" font-style="normal" fill="#8c8c8c" textLength="9.80" lengthAdjust="spacingAndGlyphs"  xml:space="preserve">35</text>
<g transform="translate(8.1 485.72) scale(0.596)" fill="#d8d8d8" stroke="#000" stroke-width="3" paint-order="stroke"><path d="M14 22H7V11H0V4h14v18zM28 22h-8l7.5-18h8L28 22z"/><circle cx="20" cy="8" r="4"/></g>
<text x="35.50" y="498.80" font-size="15" font-weight="bold" font-style="normal" fill="#d8d8d8" textLength="86.30" lengthAdjust="spacingAndGlyphs" stroke="#000" stroke-width="2.5" paint-order="stroke" stroke-linejoin="round" xml:space="preserve">TradingView</text>
<text x="29.7" y="521.8" font-size="8.6" fill="#232323" text-anchor="middle">12:00</text>
<text x="100.8" y="521.8" font-size="8.6" fill="#232323" text-anchor="middle">4</text>
<text x="171.8" y="521.8" font-size="8.6" fill="#232323" text-anchor="middle">12:00</text>
<text x="242.9" y="521.8" font-size="8.6" fill="#232323" text-anchor="middle">5</text>
<text x="313.9" y="521.8" font-size="8.6" fill="#232323" text-anchor="middle">12:00</text>
<text x="385.0" y="521.8" font-size="8.6" fill="#232323" text-anchor="middle">6</text>
<text x="456.1" y="521.8" font-size="8.6" fill="#232323" text-anchor="middle">12:00</text>
<text x="527.1" y="521.8" font-size="8.6" fill="#232323" text-anchor="middle">7</text>
<text x="598.2" y="521.8" font-size="8.6" fill="#232323" text-anchor="middle">12:00</text>
<text x="669.2" y="521.8" font-size="8.6" fill="#232323" text-anchor="middle">8</text>
<text x="740.3" y="521.8" font-size="8.6" fill="#232323" text-anchor="middle">12:00</text>
<text x="811.4" y="521.8" font-size="8.6" fill="#232323" text-anchor="middle">9</text>
<rect x="237.7" y="508.6" width="105.0" height="22" rx="2.2" fill="#fff"/>
<text x="244.00" y="522.30" font-size="8.6" fill="#111" textLength="17.20" lengthAdjust="spacingAndGlyphs">周四</text>
<text x="264.20" y="522.00" font-size="8.8" font-weight="normal" font-style="normal" fill="#111" textLength="42.30" lengthAdjust="spacingAndGlyphs"  xml:space="preserve">2026-03-05</text>
<text x="314.10" y="522.00" font-size="8.8" font-weight="normal" font-style="normal" fill="#111" textLength="21.20" lengthAdjust="spacingAndGlyphs"  xml:space="preserve">08:00</text>
<rect x="539.8" y="508.6" width="104.90000000000009" height="22" rx="2.2" fill="#fff"/>
<text x="546.00" y="522.30" font-size="8.6" fill="#111" textLength="17.20" lengthAdjust="spacingAndGlyphs">周六</text>
<text x="566.60" y="522.00" font-size="8.8" font-weight="normal" font-style="normal" fill="#111" textLength="41.80" lengthAdjust="spacingAndGlyphs"  xml:space="preserve">2026-03-07</text>
<text x="617.20" y="522.00" font-size="8.8" font-weight="normal" font-style="normal" fill="#111" textLength="20.20" lengthAdjust="spacingAndGlyphs"  xml:space="preserve">11:00</text>
</g>
</svg>
</body></html>
